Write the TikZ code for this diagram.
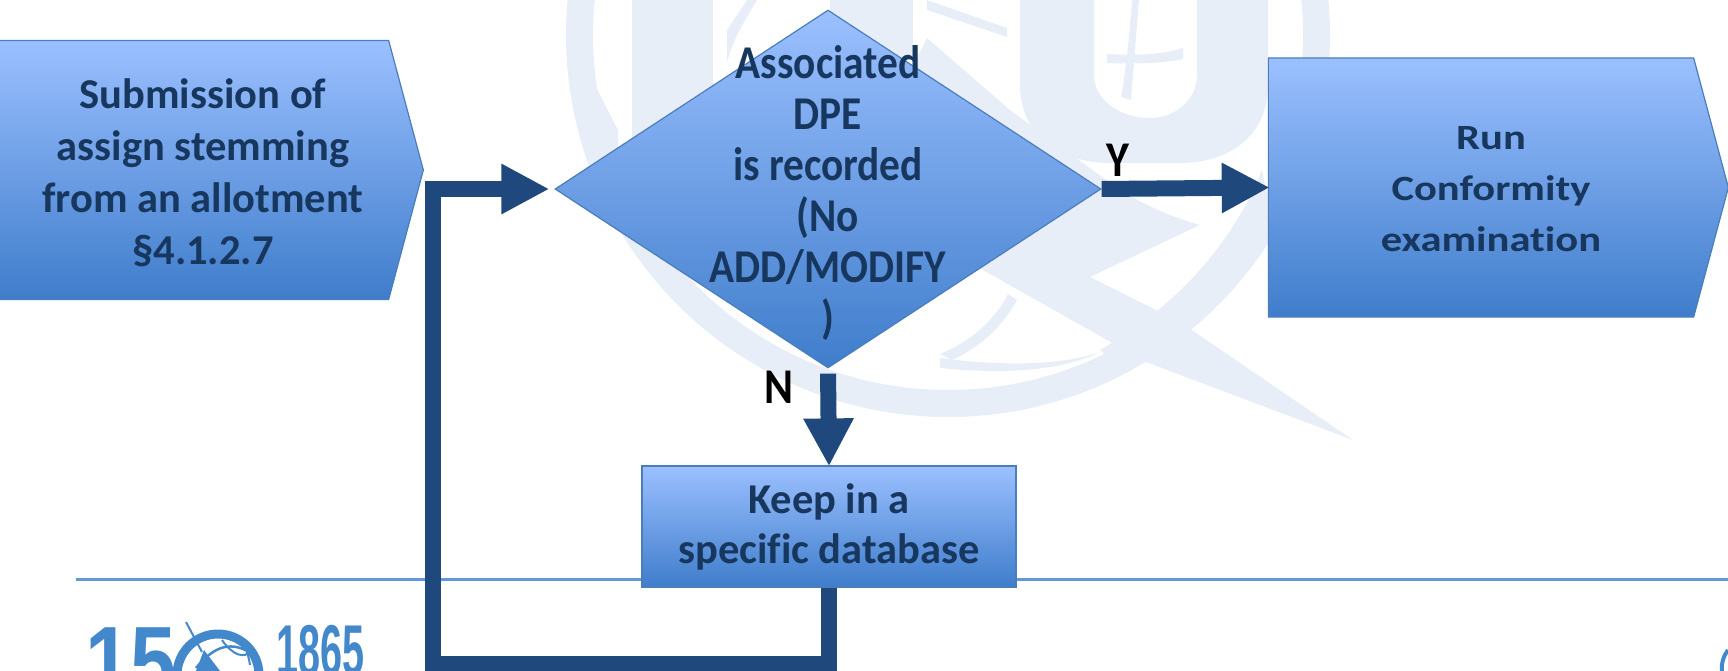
\documentclass[tikz,border=0pt]{standalone}
\usepackage{fontspec}
\setmainfont[RawFeature={-liga}]{Carlito}
\newfontfamily\widefont[FakeStretch=1.2,RawFeature={-liga}]{Carlito}
\newfontfamily\tallfont[FakeStretch=0.88,RawFeature={-liga}]{Carlito}
\newfontfamily\logofont{Liberation Sans}
\usetikzlibrary{arrows.meta,shapes.geometric,shapes.symbols}

\definecolor{boxtop}{HTML}{9BC0FF}
\definecolor{boxbottom}{HTML}{3F7DCB}
\definecolor{boxedge}{HTML}{4A7EBB}
\definecolor{textblue}{HTML}{17375E}
\definecolor{flowblue}{HTML}{1F497D}
\definecolor{markblue}{HTML}{E8EEF8}
\definecolor{logoblue}{HTML}{4488CC}

\tikzset{
  shaded box/.style={top color=boxtop, bottom color=boxbottom, draw=boxedge, line width=1.2pt,
                     text=textblue, align=center, inner sep=0pt},
  sendbox/.style={shaded box, shape=signal, signal to=east, signal from=nowhere},
  box text/.style={text=textblue, align=center, inner sep=0pt},
  flow/.style={draw=flowblue, line width=16pt, -{Triangle[length=48pt,width=47pt]}},
  branch/.style={font=\fontsize{50}{50}\selectfont\tallfont\bfseries, text=black, inner sep=0pt},
}

\begin{document}
\begin{tikzpicture}[x=1pt, y=-1pt]
\useasboundingbox (0,0) rectangle (1728,671);

% watermark
\fill[even odd rule, markblue] (948,35) circle (382) (948,35) circle (355);
\fill[markblue] (632,0) rectangle (713,180);
\fill[markblue] (830,0) rectangle (913,60);
\fill[markblue] (595,85) -- (618,130) -- (618,160) -- (600,160) -- cycle;
\fill[markblue] (1020,0) -- (1020,85) .. controls (1020,135) and (1060,163) .. (1110,163)
                -- (1180,163) .. controls (1230,163) and (1268,135) .. (1268,85) -- (1268,0)
                -- (1197,0) -- (1197,75) .. controls (1197,100) and (1175,118) .. (1150,118)
                .. controls (1120,118) and (1094,100) .. (1094,75) -- (1094,0) -- cycle;
\fill[markblue] (1132,0) -- (1139,0) -- (1131,100) -- (1121,97) .. controls (1126,70) and (1130,30) .. (1132,0);
\fill[markblue] (1107,54) .. controls (1140,56) and (1165,54) .. (1183,48) -- (1183,59)
                .. controls (1160,64) and (1130,64) .. (1107,63) -- cycle;
\fill[markblue] (927,0) -- (1007,28) -- (1007,37) -- (927,10) -- cycle;
\fill[markblue] (927,38) -- (1010,110) -- (1120,190) .. controls (1150,208) and (1175,218) .. (1200,225)
                -- (1090,277) -- (1180,322) -- (1353,440) -- (1146,362) -- (983,270) -- (930,230) -- (870,150) -- cycle;
\fill[markblue] (1268,200) .. controls (1240,260) and (1190,320) .. (1120,370)
                -- (1100,350) .. controls (1170,310) and (1230,250) .. (1262,170) -- cycle;
\fill[markblue] (940,358) .. controls (1000,366) and (1060,366) .. (1100,352)
                .. controls (1060,372) and (1000,374) .. (940,368) -- cycle;
\fill[markblue] (1008,294) .. controls (995,320) and (970,342) .. (940,354)
                -- (952,360) .. controls (985,345) and (1005,322) .. (1017,300) -- cycle;
\fill[markblue] (727,30) -- (747,0) -- (757,0) .. controls (745,20) and (735,35) .. (727,62) -- cycle;

% footer
\draw[draw=logoblue!85, line width=3pt] (76,579) -- (1728,579);
\node[anchor=north west, inner sep=0pt, text=logoblue] (fifteen) at (85,627)
      {\scalebox{0.82}[1]{\logofont\fontsize{100}{100}\selectfont\bfseries 15}};
\draw[logoblue, line width=9pt] (218,675) circle (41);
\draw[logoblue, line width=2pt] (186,622) -- (202,652);
\draw[logoblue, line width=2.5pt] (196,668) .. controls (215,645) and (232,640) .. (254,655);
\draw[logoblue, line width=2pt] (222,640) .. controls (232,655) and (246,660) .. (250,650);
\draw[logoblue, line width=2pt] (225,636) .. controls (238,636) and (246,640) .. (250,665);
\fill[logoblue] (204,650) -- (220,671) -- (196,671) -- cycle;
\node[anchor=north west, inner sep=0pt, text=logoblue] (founded) at (276,625)
      {\scalebox{0.55}[1]{\logofont\fontsize{72}{72}\selectfont\bfseries 1865}};
\draw[logoblue, line width=4pt] (1722,671) .. controls (1721,663) and (1724,655) .. (1728,650);

% boxes
\node[sendbox, minimum width=424pt, minimum height=259pt, signal pointer angle=150] (submit) at (194,170) {};
\node[box text, font=\fontsize{42.5}{52}\selectfont\bfseries] (submittext) at (203,173)
      {Submission of\\assign stemming\\from an allotment\\§4.1.2.7};
\node[sendbox, minimum width=460pt, minimum height=259pt, signal pointer angle=150] (run) at (1481,187.5) {};
\node[box text, font=\fontsize{35.5}{51}\selectfont\widefont\bfseries] (runtext) at (1491,189)
      {Run\\Conformity\\examination};
\node[shaded box, shape=diamond, minimum width=546pt, minimum height=358pt, aspect=1.525] (decide) at (828,189) {};
\node[box text, font=\fontsize{47}{51}\selectfont\tallfont\bfseries] (decidetext) at (828,193)
      {Associated\\DPE\\is recorded\\(No\\ADD/MODIFY\\)};
\node[shaded box, minimum width=374pt, minimum height=121pt, font=\fontsize{42.5}{50}\selectfont\bfseries] (keep) at (829,526.5)
      {Keep in a\\specific database};

% connectors
\coordinate (loopright) at (829,664);
\coordinate (loopleft)  at (432.5,664);
\draw[flow, shorten >=-2pt] (decide.east) -- (run.west);
\draw[flow, shorten <=5pt, shorten >=-1pt] (decide.south) -- (keep.north);
\draw[flow, shorten >=5pt] (keep.south) -- (loopright) -- (loopleft) |- (decide.west);

% branch labels
\node[branch] (yes) at (1118,160) {Y};
\node[branch] (no)  at (779,387) {N};
\end{tikzpicture}
\end{document}
